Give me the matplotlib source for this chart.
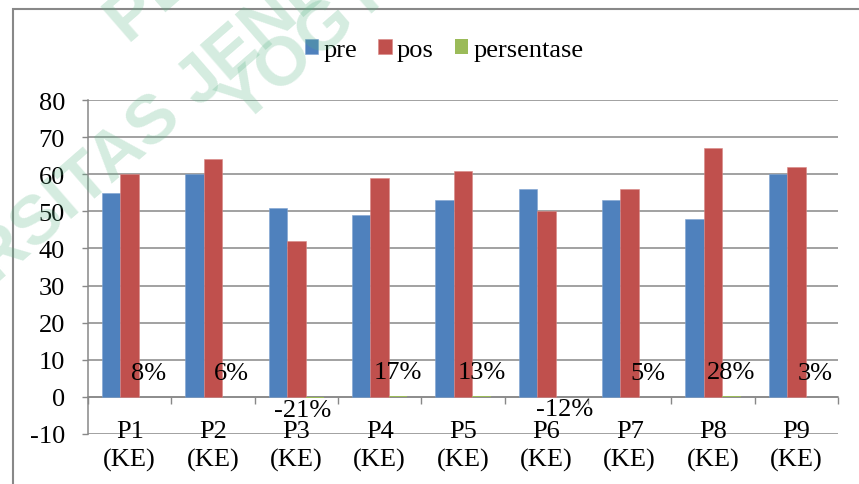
import matplotlib
matplotlib.use("Agg")
import matplotlib.pyplot as plt
from matplotlib.patches import Rectangle
from matplotlib import transforms

# ---- data ----
categories = ["P1", "P2", "P3", "P4", "P5", "P6", "P7", "P8", "P9"]
category_sub = "(KE)"
pre = [55, 60, 51, 49, 53, 56, 53, 48, 60]
pos = [60, 64, 42, 59, 61, 50, 56, 67, 62]
persentase = [0.08, 0.06, -0.21, 0.17, 0.13, -0.12, 0.05, 0.28, 0.03]
series_names = ["pre", "pos", "persentase"]
yticks = [-10, 0, 10, 20, 30, 40, 50, 60, 70, 80]

W, H = 859, 485
plt.rcParams["font.family"] = ["Liberation Serif", "DejaVu Serif"]
FS = 19
GRAY = "#888888"
BLUE, RED, GREEN = "#4F81BD", "#C0504D", "#9BBB59"

fig = plt.figure(figsize=(W / 100, H / 100), dpi=100)
fig.patch.set_facecolor("white")


def fx(px):
    return px / W


def fy(py):
    return 1 - py / H


# outer chart frame
fig.patches.append(Rectangle((fx(13), fy(900)), fx(2000), fy(10) - fy(900),
                             transform=fig.transFigure, fill=False,
                             edgecolor=GRAY, linewidth=1.5, zorder=0))

ax = fig.add_axes([fx(88), fy(435), fx(838) - fx(88), fy(101) - fy(435)])
ax.set_facecolor("none")

n = len(categories)
x = list(range(n))
bw = 1 / 4.5
b1 = ax.bar([i - bw for i in x], pre, bw, color=BLUE, edgecolor="#7fa3d1",
            linewidth=0.4, zorder=3, label=series_names[0])
b2 = ax.bar(x, pos, bw, color=RED, edgecolor="#d98785",
            linewidth=0.4, zorder=3, label=series_names[1])
b3 = ax.bar([i + bw for i in x], persentase, bw, color=GREEN,
            linewidth=0, zorder=3, label=series_names[2])

ax.set_xlim(-0.5, n - 0.5)
ax.set_ylim(-10, 80)
ax.set_yticks(yticks)
ax.set_yticklabels([str(v) for v in yticks], fontsize=FS)
ax.tick_params(axis="y", direction="out", length=4.5, width=1, color=GRAY,
               pad=12)
ax.yaxis.grid(True, color=GRAY, linewidth=1.1, zorder=1)
ax.set_axisbelow(True)

for s in ["top", "right"]:
    ax.spines[s].set_visible(False)
ax.spines["left"].set_color(GRAY)
ax.spines["left"].set_linewidth(1.1)
ax.spines["bottom"].set_position(("data", 0))
ax.spines["bottom"].set_color(GRAY)
ax.spines["bottom"].set_linewidth(1.1)
ax.set_xticks([i + 0.5 for i in range(-1, n)])
ax.set_xticklabels([])
ax.tick_params(axis="x", direction="out", length=5, width=1, color=GRAY)

# category labels, two lines each
lab_tr = transforms.blended_transform_factory(ax.transData, fig.transFigure)
for i, c in enumerate(categories):
    ax.text(i, fy(438), c, transform=lab_tr, ha="center", va="baseline",
            fontsize=FS, zorder=5)
    ax.text(i, fy(467), category_sub, transform=lab_tr, ha="center",
            va="baseline", fontsize=FS, zorder=5)

# percentage labels
nudge_px = {2: -12}
for i, v in enumerate(persentase):
    dy = 13 if v >= 0 else -13
    ax.annotate(f"{round(v * 100):d}%", xy=(i + bw, v),
                xytext=(nudge_px.get(i, 0) * 0.72, dy),
                textcoords="offset points", ha="center", va="baseline",
                fontsize=FS, zorder=6)

# legend
ax.legend(handles=[b1, b2, b3], loc="center left",
          bbox_to_anchor=(fx(305), fy(51)), bbox_transform=fig.transFigure,
          ncol=3, frameon=False, fontsize=FS, handlelength=0.5,
          handleheight=0.5, handletextpad=0.2, columnspacing=0.8,
          borderpad=0, borderaxespad=0)

# library stamp overlay
WM = dict(family="Liberation Sans", weight="bold", fontsize=50, rotation=41,
          rotation_mode="anchor", ha="left", va="baseline",
          color=(87 / 255, 179 / 255, 131 / 255), alpha=0.25, zorder=20,
          transform=fig.transFigure)
fig.text(fx(127), fy(43), "PERPUSTAKAAN", **WM)
fig.text(fx(-164), fy(425), "UNIVERSITAS JENDERAL ACHMAD YANI", **WM)
fig.text(fx(242), fy(126), "YOGYAKARTA", **WM)

fig.savefig("out.png", dpi=100)
